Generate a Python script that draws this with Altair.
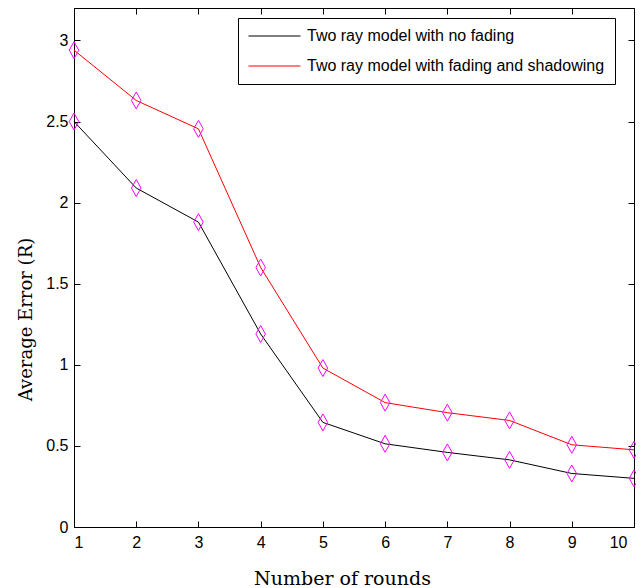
import altair as alt
import pandas as pd

rounds = [1, 2, 3, 4, 5, 6, 7, 8, 9, 10]
no_fading = [2.50, 2.09, 1.88, 1.19, 0.645, 0.513, 0.46, 0.414, 0.33, 0.30]
fading = [2.94, 2.63, 2.455, 1.60, 0.98, 0.767, 0.705, 0.657, 0.507, 0.476]
series_names = ["Two ray model with no fading", "Two ray model with fading and shadowing"]
series_colors = ["#000000", "#ff0000"]
x_ticks = [1, 2, 3, 4, 5, 6, 7, 8, 9, 10]
y_ticks = [0, 0.5, 1, 1.5, 2, 2.5, 3]
x_domain = [1, 10]
y_domain = [0, 3.2]

W, H = 560, 519
TL = 6  # inward tick length in pixels (drawn as dashed grid ends)

rows = []
for name, vals in zip(series_names, [no_fading, fading]):
    for r, v in zip(rounds, vals):
        rows.append({"rounds": r, "error": v, "series": name})
df = pd.DataFrame(rows)

tick_font = "Liberation Sans"
title_font = "DejaVu Serif"

xscale = alt.Scale(domain=x_domain, nice=False, zero=False)
yscale = alt.Scale(domain=y_domain, nice=False, zero=False)

xaxis = alt.Axis(values=x_ticks, format="d", tickSize=0, labelPadding=7,
                 labelOffset={"condition": {"test": "datum.value == 10", "value": -7}, "value": 0},
                 labelFont=tick_font, labelFontSize=16, labelColor="black",
                 domainColor="black",
                 grid=True, gridColor="black", gridOpacity=1, gridWidth=1,
                 gridDash=[TL, H - 2 * TL, TL],
                 title="Number of rounds",
                 titleFont=title_font, titleFontSize=19, titleFontWeight="normal",
                 titleColor="black", titleX=268, titleY=57,
                 titleBaseline="alphabetic", titleAlign="center")
yaxis = alt.Axis(values=y_ticks, format="~g", tickSize=0, labelPadding=6,
                 labelFont=tick_font, labelFontSize=16, labelColor="black",
                 domainColor="black",
                 grid=True, gridColor="black", gridOpacity=1, gridWidth=1,
                 gridDash=[TL, W - 2 * TL, TL],
                 title="Average Error (R)",
                 titleFont=title_font, titleFontSize=18, titleFontWeight="normal",
                 titleColor="black", titleX=-43, titleY=311,
                 titleBaseline="alphabetic", titleAlign="center")

lines = alt.Chart(df).mark_line(strokeWidth=1).encode(
    x=alt.X("rounds:Q", scale=xscale, axis=xaxis),
    y=alt.Y("error:Q", scale=yscale, axis=yaxis),
    color=alt.Color("series:N",
                    scale=alt.Scale(domain=series_names, range=series_colors),
                    legend=alt.Legend(title=None, orient="none", legendX=164, legendY=10,
                                      strokeColor="black", fillColor="white", padding=10,
                                      symbolType="stroke", symbolSize=2704,
                                      symbolStrokeWidth=1, labelFont=tick_font,
                                      labelFontSize=16, labelColor="black", labelOffset=6,
                                      labelLimit=500, clipHeight=16, rowPadding=14)),
    order="rounds:Q",
)

points = alt.Chart(df).mark_point(
    shape="M0,-1L0.56,0L0,1L-0.56,0Z", size=289, filled=False,
    stroke="#ff00ff", strokeWidth=1, opacity=1,
).encode(
    x=alt.X("rounds:Q", scale=xscale),
    y=alt.Y("error:Q", scale=yscale),
)

chart = alt.layer(lines, points).properties(
    width=W, height=H,
    autosize=alt.AutoSizeParams(type="none"),
    padding={"left": 66, "top": 0, "right": 2, "bottom": 61},
    background="white",
).configure_view(stroke="black", strokeWidth=1)

chart.save("out.html", embed_options={"renderer": "svg", "actions": False})
